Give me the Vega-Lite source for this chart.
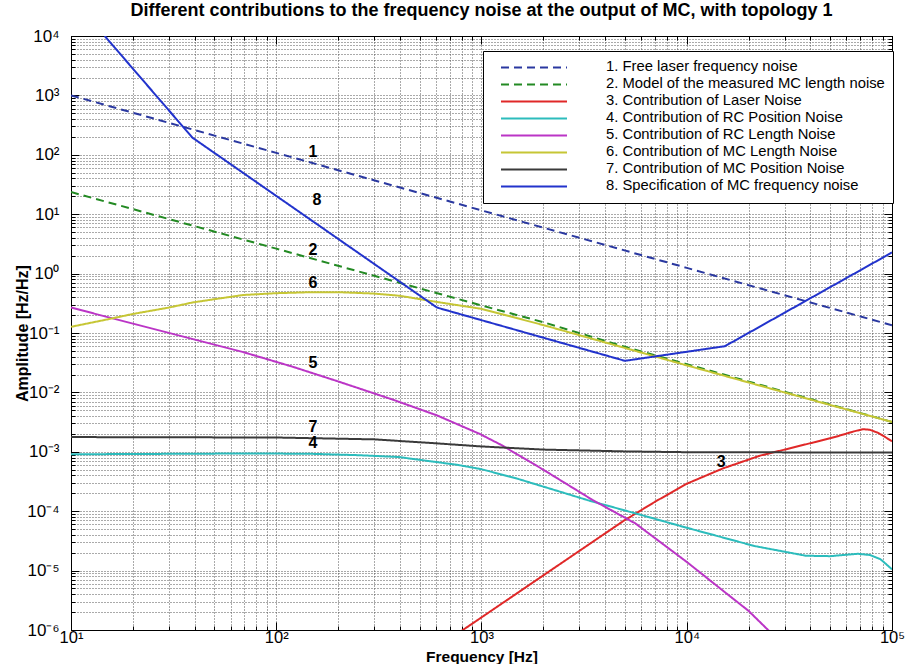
{
  "$schema": "https://vega.github.io/schema/vega-lite/v6.json",
  "width": 821,
  "height": 594,
  "autosize": {"type": "none"},
  "padding": {"left": 71, "top": 36, "right": 13, "bottom": 34},
  "background": "white",
  "title": {"text": "Different contributions to the frequency noise at the output of MC, with topology 1", "font": "Liberation Sans", "fontSize": 18, "fontWeight": "bold", "color": "black", "anchor": "middle", "offset": 7},
  "config": {
    "view": {"stroke": "black", "strokeWidth": 1},
    "font": "Liberation Sans",
    "legend": {"orient": "none", "legendX": 412, "legendY": 15, "symbolType": "stroke", "symbolSize": 4356, "clipHeight": 16.8, "rowPadding": 0, "labelFontSize": 14.8, "labelFont": "Liberation Sans", "labelColor": "black", "strokeColor": "black", "fillColor": "white", "padding": 8, "symbolOffset": 9, "labelOffset": 38, "symbolStrokeWidth": 2, "labelLimit": 500}
  },
  "datasets": {
    "curves": [
      {"series": "1. Free laser frequency noise", "f": 10, "A": 1000},
      {"series": "1. Free laser frequency noise", "f": 100, "A": 107.8},
      {"series": "1. Free laser frequency noise", "f": 1000, "A": 11.6},
      {"series": "1. Free laser frequency noise", "f": 10000, "A": 1.25},
      {"series": "1. Free laser frequency noise", "f": 100000, "A": 0.135},
      {"series": "2. Model of the measured MC length noise", "f": 10, "A": 23.6},
      {"series": "2. Model of the measured MC length noise", "f": 30, "A": 8.28},
      {"series": "2. Model of the measured MC length noise", "f": 100, "A": 2.63},
      {"series": "2. Model of the measured MC length noise", "f": 300, "A": 0.919},
      {"series": "2. Model of the measured MC length noise", "f": 1000, "A": 0.291},
      {"series": "2. Model of the measured MC length noise", "f": 2000, "A": 0.152},
      {"series": "2. Model of the measured MC length noise", "f": 5000, "A": 0.0586},
      {"series": "2. Model of the measured MC length noise", "f": 10000, "A": 0.0299},
      {"series": "2. Model of the measured MC length noise", "f": 100000, "A": 0.00318},
      {"series": "3. Contribution of Laser Noise", "f": 790, "A": 9.4e-7},
      {"series": "3. Contribution of Laser Noise", "f": 1000, "A": 1.63e-6},
      {"series": "3. Contribution of Laser Noise", "f": 2000, "A": 8.3e-6},
      {"series": "3. Contribution of Laser Noise", "f": 3000, "A": 2.15e-5},
      {"series": "3. Contribution of Laser Noise", "f": 4900, "A": 6.8e-5},
      {"series": "3. Contribution of Laser Noise", "f": 7000, "A": 1.44e-4},
      {"series": "3. Contribution of Laser Noise", "f": 10000, "A": 2.9e-4},
      {"series": "3. Contribution of Laser Noise", "f": 15000, "A": 5.25e-4},
      {"series": "3. Contribution of Laser Noise", "f": 22800, "A": 8.63e-4},
      {"series": "3. Contribution of Laser Noise", "f": 30000, "A": 1.09e-3},
      {"series": "3. Contribution of Laser Noise", "f": 41500, "A": 1.44e-3},
      {"series": "3. Contribution of Laser Noise", "f": 55000, "A": 1.85e-3},
      {"series": "3. Contribution of Laser Noise", "f": 65000, "A": 2.2e-3},
      {"series": "3. Contribution of Laser Noise", "f": 72000, "A": 2.4e-3},
      {"series": "3. Contribution of Laser Noise", "f": 78000, "A": 2.35e-3},
      {"series": "3. Contribution of Laser Noise", "f": 85000, "A": 2.1e-3},
      {"series": "3. Contribution of Laser Noise", "f": 92000, "A": 1.8e-3},
      {"series": "3. Contribution of Laser Noise", "f": 100000, "A": 1.5e-3},
      {"series": "4. Contribution of RC Position Noise", "f": 10, "A": 9.08e-4},
      {"series": "4. Contribution of RC Position Noise", "f": 30, "A": 9.24e-4},
      {"series": "4. Contribution of RC Position Noise", "f": 80, "A": 9.39e-4},
      {"series": "4. Contribution of RC Position Noise", "f": 150, "A": 9.24e-4},
      {"series": "4. Contribution of RC Position Noise", "f": 250, "A": 8.78e-4},
      {"series": "4. Contribution of RC Position Noise", "f": 394, "A": 8.17e-4},
      {"series": "4. Contribution of RC Position Noise", "f": 766, "A": 6.02e-4},
      {"series": "4. Contribution of RC Position Noise", "f": 1000, "A": 5.09e-4},
      {"series": "4. Contribution of RC Position Noise", "f": 1490, "A": 3.54e-4},
      {"series": "4. Contribution of RC Position Noise", "f": 3300, "A": 1.53e-4},
      {"series": "4. Contribution of RC Position Noise", "f": 5630, "A": 9.18e-5},
      {"series": "4. Contribution of RC Position Noise", "f": 10000, "A": 5.26e-5},
      {"series": "4. Contribution of RC Position Noise", "f": 21400, "A": 2.59e-5},
      {"series": "4. Contribution of RC Position Noise", "f": 38000, "A": 1.78e-5},
      {"series": "4. Contribution of RC Position Noise", "f": 50000, "A": 1.75e-5},
      {"series": "4. Contribution of RC Position Noise", "f": 68000, "A": 1.92e-5},
      {"series": "4. Contribution of RC Position Noise", "f": 78000, "A": 1.83e-5},
      {"series": "4. Contribution of RC Position Noise", "f": 88000, "A": 1.55e-5},
      {"series": "4. Contribution of RC Position Noise", "f": 100000, "A": 1.05e-5},
      {"series": "5. Contribution of RC Length Noise", "f": 10, "A": 0.268},
      {"series": "5. Contribution of RC Length Noise", "f": 20, "A": 0.144},
      {"series": "5. Contribution of RC Length Noise", "f": 40, "A": 0.0776},
      {"series": "5. Contribution of RC Length Noise", "f": 69, "A": 0.0477},
      {"series": "5. Contribution of RC Length Noise", "f": 120, "A": 0.0271},
      {"series": "5. Contribution of RC Length Noise", "f": 198, "A": 0.0155},
      {"series": "5. Contribution of RC Length Noise", "f": 372, "A": 0.0075},
      {"series": "5. Contribution of RC Length Noise", "f": 607, "A": 0.0041},
      {"series": "5. Contribution of RC Length Noise", "f": 980, "A": 2.0e-3},
      {"series": "5. Contribution of RC Length Noise", "f": 1250, "A": 1.3e-3},
      {"series": "5. Contribution of RC Length Noise", "f": 2000, "A": 5.0e-4},
      {"series": "5. Contribution of RC Length Noise", "f": 3470, "A": 1.55e-4},
      {"series": "5. Contribution of RC Length Noise", "f": 5630, "A": 6.2e-5},
      {"series": "5. Contribution of RC Length Noise", "f": 10000, "A": 1.4e-5},
      {"series": "5. Contribution of RC Length Noise", "f": 15000, "A": 4.6e-6},
      {"series": "5. Contribution of RC Length Noise", "f": 20000, "A": 2.1e-6},
      {"series": "5. Contribution of RC Length Noise", "f": 24900, "A": 1.0e-6},
      {"series": "5. Contribution of RC Length Noise", "f": 30000, "A": 6.0e-7},
      {"series": "6. Contribution of MC Length Noise", "f": 10, "A": 0.127},
      {"series": "6. Contribution of MC Length Noise", "f": 15, "A": 0.169},
      {"series": "6. Contribution of MC Length Noise", "f": 20, "A": 0.209},
      {"series": "6. Contribution of MC Length Noise", "f": 30, "A": 0.268},
      {"series": "6. Contribution of MC Length Noise", "f": 39, "A": 0.326},
      {"series": "6. Contribution of MC Length Noise", "f": 50, "A": 0.371},
      {"series": "6. Contribution of MC Length Noise", "f": 69, "A": 0.436},
      {"series": "6. Contribution of MC Length Noise", "f": 100, "A": 0.468},
      {"series": "6. Contribution of MC Length Noise", "f": 150, "A": 0.487},
      {"series": "6. Contribution of MC Length Noise", "f": 200, "A": 0.487},
      {"series": "6. Contribution of MC Length Noise", "f": 300, "A": 0.461},
      {"series": "6. Contribution of MC Length Noise", "f": 400, "A": 0.423},
      {"series": "6. Contribution of MC Length Noise", "f": 607, "A": 0.333},
      {"series": "6. Contribution of MC Length Noise", "f": 1000, "A": 0.255},
      {"series": "6. Contribution of MC Length Noise", "f": 2000, "A": 0.136},
      {"series": "6. Contribution of MC Length Noise", "f": 5000, "A": 0.0559},
      {"series": "6. Contribution of MC Length Noise", "f": 10000, "A": 0.0285},
      {"series": "6. Contribution of MC Length Noise", "f": 30000, "A": 0.00997},
      {"series": "6. Contribution of MC Length Noise", "f": 100000, "A": 0.00318},
      {"series": "7. Contribution of MC Position Noise", "f": 10, "A": 1.77e-3},
      {"series": "7. Contribution of MC Position Noise", "f": 100, "A": 1.74e-3},
      {"series": "7. Contribution of MC Position Noise", "f": 300, "A": 1.62e-3},
      {"series": "7. Contribution of MC Position Noise", "f": 600, "A": 1.39e-3},
      {"series": "7. Contribution of MC Position Noise", "f": 1000, "A": 1.23e-3},
      {"series": "7. Contribution of MC Position Noise", "f": 2000, "A": 1.09e-3},
      {"series": "7. Contribution of MC Position Noise", "f": 5000, "A": 1.015e-3},
      {"series": "7. Contribution of MC Position Noise", "f": 10000, "A": 9.85e-4},
      {"series": "7. Contribution of MC Position Noise", "f": 100000, "A": 9.7e-4},
      {"series": "8. Specification of MC frequency noise", "f": 14.6, "A": 10000},
      {"series": "8. Specification of MC frequency noise", "f": 39, "A": 195},
      {"series": "8. Specification of MC frequency noise", "f": 607, "A": 0.268},
      {"series": "8. Specification of MC frequency noise", "f": 5000, "A": 0.034},
      {"series": "8. Specification of MC frequency noise", "f": 15350, "A": 0.06},
      {"series": "8. Specification of MC frequency noise", "f": 100000, "A": 2.27}
    ],
    "labels": [
      {"t": "1", "f": 151, "A": 111},
      {"t": "8", "f": 158, "A": 17.4},
      {"t": "2", "f": 151, "A": 2.52},
      {"t": "6", "f": 151, "A": 0.691},
      {"t": "5", "f": 151, "A": 0.0313},
      {"t": "7", "f": 151, "A": 0.00259},
      {"t": "4", "f": 151, "A": 0.00141},
      {"t": "3", "f": 14700, "A": 0.000679}
    ]
  },
  "layer": [
    {
      "data": {"name": "curves"},
      "mark": {"type": "line", "clip": true},
      "encoding": {
        "x": {
          "field": "f", "type": "quantitative",
          "scale": {"type": "log", "domain": [10, 100000], "nice": false},
          "axis": {
            "orient": "bottom",
            "values": [10,20,30,40,50,60,70,80,90,100,200,300,400,500,600,700,800,900,1000,2000,3000,4000,5000,6000,7000,8000,9000,10000,20000,30000,40000,50000,60000,70000,80000,90000,100000],
            "labelExpr": "abs(log(datum.value)/LN10 - round(log(datum.value)/LN10)) < 0.001 ? '10' + ['⁻⁶','⁻⁵','⁻⁴','⁻³','⁻²','⁻¹','⁰','¹','²','³','⁴','⁵'][round(log(datum.value)/LN10)+6] : ''",
            "grid": true, "gridDash": [1, 2], "gridColor": "#555", "gridWidth": 1, "gridOpacity": 1,
            "tickSize": {"condition": {"test": "abs(log(datum.value)/LN10 - round(log(datum.value)/LN10)) < 0.001", "value": -8}, "value": -4},
            "tickColor": "black", "domainColor": "black",
            "labelFontSize": 16.5, "labelColor": "black", "labelFont": "Liberation Sans",
            "labelPadding": 7, "labelOverlap": false, "labelFlush": false, "labelBound": false,
            "title": "Frequency [Hz]", "titleFontSize": 15.5, "titleFontWeight": "bold", "titleColor": "black", "titleFont": "Liberation Sans",
            "titleY": 26.5, "titleBaseline": "middle"
          }
        },
        "y": {
          "field": "A", "type": "quantitative",
          "scale": {"type": "log", "domain": [1e-6, 10000], "nice": false},
          "axis": {
            "orient": "left",
            "values": [1e-6,2e-6,3e-6,4e-6,5e-6,6e-6,7e-6,8e-6,9e-6,1e-5,2e-5,3e-5,4e-5,5e-5,6e-5,7e-5,8e-5,9e-5,1e-4,2e-4,3e-4,4e-4,5e-4,6e-4,7e-4,8e-4,9e-4,1e-3,2e-3,3e-3,4e-3,5e-3,6e-3,7e-3,8e-3,9e-3,0.01,0.02,0.03,0.04,0.05,0.06,0.07,0.08,0.09,0.1,0.2,0.3,0.4,0.5,0.6,0.7,0.8,0.9,1,2,3,4,5,6,7,8,9,10,20,30,40,50,60,70,80,90,100,200,300,400,500,600,700,800,900,1000,2000,3000,4000,5000,6000,7000,8000,9000,10000],
            "labelExpr": "abs(log(datum.value)/LN10 - round(log(datum.value)/LN10)) < 0.001 ? '10' + ['⁻⁶','⁻⁵','⁻⁴','⁻³','⁻²','⁻¹','⁰','¹','²','³','⁴','⁵'][round(log(datum.value)/LN10)+6] : ''",
            "grid": true, "gridDash": [1, 2], "gridColor": "#555", "gridWidth": 1, "gridOpacity": 1,
            "tickSize": {"condition": {"test": "abs(log(datum.value)/LN10 - round(log(datum.value)/LN10)) < 0.001", "value": -8}, "value": -4},
            "tickColor": "black", "domainColor": "black",
            "labelFontSize": 17, "labelColor": "black", "labelFont": "Liberation Sans",
            "labelPadding": 20, "labelOverlap": false, "labelFlush": false, "labelBound": false,
            "title": "Amplitude [Hz/Hz]", "titleFontSize": 16, "titleFontWeight": "bold", "titleColor": "black", "titleFont": "Liberation Sans",
            "titleX": -49, "titleY": 297, "titleAngle": 270, "titleAlign": "center", "titleBaseline": "middle"
          }
        },
        "color": {
          "field": "series", "type": "nominal",
          "scale": {
            "domain": ["1. Free laser frequency noise", "2. Model of the measured MC length noise", "3. Contribution of Laser Noise", "4. Contribution of RC Position Noise", "5. Contribution of RC Length Noise", "6. Contribution of MC Length Noise", "7. Contribution of MC Position Noise", "8. Specification of MC frequency noise"],
            "range": ["#2a38a0", "#238a23", "#e02828", "#2cbcbc", "#bb35c6", "#c6c635", "#3a3a3a", "#2233cc"]
          },
          "legend": {"title": null}
        },
        "strokeDash": {
          "field": "series", "type": "nominal",
          "scale": {
            "domain": ["1. Free laser frequency noise", "2. Model of the measured MC length noise", "3. Contribution of Laser Noise", "4. Contribution of RC Position Noise", "5. Contribution of RC Length Noise", "6. Contribution of MC Length Noise", "7. Contribution of MC Position Noise", "8. Specification of MC frequency noise"],
            "range": [[8, 5], [8, 5], [1, 0], [1, 0], [1, 0], [1, 0], [1, 0], [1, 0]]
          },
          "legend": {"title": null}
        },
        "strokeWidth": {
          "field": "series", "type": "nominal",
          "scale": {
            "domain": ["1. Free laser frequency noise", "2. Model of the measured MC length noise", "3. Contribution of Laser Noise", "4. Contribution of RC Position Noise", "5. Contribution of RC Length Noise", "6. Contribution of MC Length Noise", "7. Contribution of MC Position Noise", "8. Specification of MC frequency noise"],
            "range": [2, 2, 2, 2, 1.6, 2.2, 1.1, 1.1]
          },
          "legend": null
        }
      }
    },
    {
      "data": {"name": "labels"},
      "mark": {"type": "text", "font": "Liberation Sans", "fontSize": 16, "fontWeight": "bold", "color": "black", "align": "center", "baseline": "middle"},
      "encoding": {
        "x": {
          "field": "f", "type": "quantitative",
          "scale": {"type": "log", "domain": [10, 100000], "nice": false},
          "axis": {
            "orient": "top",
            "values": [10,20,30,40,50,60,70,80,90,100,200,300,400,500,600,700,800,900,1000,2000,3000,4000,5000,6000,7000,8000,9000,10000,20000,30000,40000,50000,60000,70000,80000,90000,100000],
            "labels": false, "grid": false, "title": null,
            "tickSize": {"condition": {"test": "abs(log(datum.value)/LN10 - round(log(datum.value)/LN10)) < 0.001", "value": -8}, "value": -4},
            "tickColor": "black", "domainColor": "black"
          }
        },
        "y": {
          "field": "A", "type": "quantitative",
          "scale": {"type": "log", "domain": [1e-6, 10000], "nice": false},
          "axis": {
            "orient": "right",
            "values": [1e-6,2e-6,3e-6,4e-6,5e-6,6e-6,7e-6,8e-6,9e-6,1e-5,2e-5,3e-5,4e-5,5e-5,6e-5,7e-5,8e-5,9e-5,1e-4,2e-4,3e-4,4e-4,5e-4,6e-4,7e-4,8e-4,9e-4,1e-3,2e-3,3e-3,4e-3,5e-3,6e-3,7e-3,8e-3,9e-3,0.01,0.02,0.03,0.04,0.05,0.06,0.07,0.08,0.09,0.1,0.2,0.3,0.4,0.5,0.6,0.7,0.8,0.9,1,2,3,4,5,6,7,8,9,10,20,30,40,50,60,70,80,90,100,200,300,400,500,600,700,800,900,1000,2000,3000,4000,5000,6000,7000,8000,9000,10000],
            "labels": false, "grid": false, "title": null,
            "tickSize": {"condition": {"test": "abs(log(datum.value)/LN10 - round(log(datum.value)/LN10)) < 0.001", "value": -8}, "value": -4},
            "tickColor": "black", "domainColor": "black"
          }
        },
        "text": {"field": "t", "type": "nominal"}
      }
    }
  ],
  "resolve": {"axis": {"x": "independent", "y": "independent"}}
}
